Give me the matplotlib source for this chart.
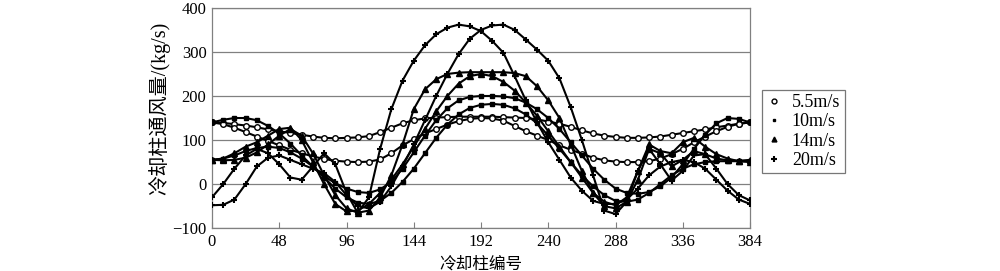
import numpy as np
import matplotlib
matplotlib.use("Agg")
import matplotlib.pyplot as plt
from matplotlib.lines import Line2D

plt.rcParams['font.family'] = ['Liberation Serif', 'Noto Sans CJK SC']

# cooling column number, sampled every 8 columns
columns = np.arange(0, 385, 8)

# 5.5 m/s
speed_55_a = [140, 139, 136, 133, 129, 124, 120, 116, 112, 108, 105, 104, 105, 106, 109, 118,
              128, 138, 145, 149, 151, 152, 153, 153, 153, 153, 152, 151, 150, 147, 142, 137,
              130, 122, 115, 110, 107, 105, 105, 106, 108, 112, 116, 120, 124, 129, 133, 137, 140]
speed_55_b = [140, 136, 128, 118, 108, 98, 88, 78, 70, 63, 57, 53, 51, 50, 51, 56,
              70, 88, 102, 115, 125, 135, 143, 148, 150, 149, 144, 132, 120, 110, 100, 88,
              78, 69, 60, 54, 51, 50, 50, 52, 58, 68, 80, 95, 108, 120, 130, 137, 140]
# 10 m/s
speed_10_a = [140, 146, 150, 150, 145, 132, 115, 92, 65, 40, 18, 2, -10, -18, -20, -12,
              5, 35, 72, 110, 145, 172, 190, 198, 200, 200, 199, 195, 185, 170, 150, 125,
              95, 65, 35, 10, -10, -20, -22, -18, -5, 15, 45, 80, 112, 138, 150, 148, 140]
speed_10_b = [55, 58, 65, 75, 82, 85, 82, 72, 58, 40, 15, -10, -30, -42, -45, -38,
              -20, 5, 35, 70, 105, 135, 158, 173, 180, 182, 180, 172, 158, 138, 110, 80,
              50, 20, -5, -25, -38, -40, -35, -20, 0, 20, 35, 45, 50, 52, 52, 52, 52]
# 14 m/s
speed_14_a = [55, 58, 70, 85, 95, 110, 125, 128, 100, 50, 0, -45, -62, -60, -45, -20,
              10, 45, 85, 125, 165, 200, 228, 245, 250, 245, 232, 212, 185, 155, 120, 85,
              50, 15, -20, -40, -48, -30, 30, 90, 75, 70, 95, 105, 85, 68, 58, 52, 50]
speed_14_b = [55, 54, 55, 60, 72, 90, 110, 125, 110, 70, 20, -25, -55, -65, -60, -30,
              20, 90, 170, 215, 238, 250, 253, 254, 254, 254, 254, 252, 245, 222, 190, 150,
              90, 30, -20, -50, -55, -40, 10, 80, 70, 40, 55, 75, 68, 58, 54, 53, 55]
# 20 m/s
speed_20_a = [-30, 0, 35, 65, 80, 70, 45, 15, 10, 40, 70, 45, -20, -65, -30, 80,
              170, 235, 280, 315, 340, 355, 362, 358, 347, 325, 298, 245, 190, 140, 95, 55,
              15, -15, -38, -45, -45, -35, -10, 20, 40, 50, 55, 50, 35, 10, -15, -35, -45]
speed_20_b = [-48, -47, -35, 0, 40, 60, 65, 55, 45, 35, 25, 5, -25, -50, -55, -40,
              -5, 40, 90, 145, 200, 250, 295, 330, 350, 360, 362, 350, 328, 305, 280, 240,
              175, 100, 20, -60, -68, -40, 30, 80, 45, 8, 30, 65, 68, 35, 0, -25, -37]

labels = ["5.5m/s", "10m/s", "14m/s", "20m/s"]
series = [(speed_55_a, speed_55_b), (speed_10_a, speed_10_b),
          (speed_14_a, speed_14_b), (speed_20_a, speed_20_b)]
styles = [dict(marker="o", ms=4, mfc="white", mec="black", mew=1.0),
          dict(marker="s", ms=2.2, mfc="black", mec="black"),
          dict(marker="^", ms=4.2, mfc="black", mec="black"),
          dict(marker="+", ms=5, mec="black", mew=1.5)]

fig = plt.figure(figsize=(10, 2.71), dpi=100)
ax = fig.add_axes([0.212, 0.158, 0.538, 0.813])

for (a, b), st in zip(series, styles):
    for vals in (a, b):
        ax.plot(columns, vals, color="black", lw=1.5, ls="-", zorder=3, **st)

ax.set_xlim(0, 384)
ax.set_ylim(-100, 400)
ax.set_xticks(np.arange(0, 385, 48))
ax.set_yticks(np.arange(-100, 401, 100))
ax.yaxis.grid(True, color="#808080", lw=0.9)
ax.set_axisbelow(True)
for s in ax.spines.values():
    s.set_color("#808080")
    s.set_linewidth(0.9)
ax.tick_params(axis="x", direction="in", length=4, color="#808080", labelsize=12, pad=4)
ax.tick_params(axis="y", length=0, labelsize=12, pad=4)

ax.set_xlabel("冷却柱编号", fontsize=12)
ax.xaxis.set_label_coords(0.5, -0.128)
ax.set_ylabel("冷却柱通风量/(kg/s)", fontsize=14.5)
ax.yaxis.set_label_coords(-0.078, 0.543)

handles = [Line2D([], [], color="black", ls="none", **st) for st in styles]
handles[0].set_markersize(3.5)
handles[1].set_markersize(2.0)
handles[2].set_markersize(3.5)
handles[3].set_markersize(4)
leg = ax.legend(handles, labels, loc="upper left", bbox_to_anchor=(1.0223, 0.628),
                borderaxespad=0, frameon=True, fancybox=False, fontsize=13,
                handlelength=0.8, handletextpad=0.6, borderpad=0.25, labelspacing=0.12)
leg.get_frame().set_edgecolor("#555555")
leg.get_frame().set_linewidth(0.9)

fig.savefig("out.png", dpi=100)
